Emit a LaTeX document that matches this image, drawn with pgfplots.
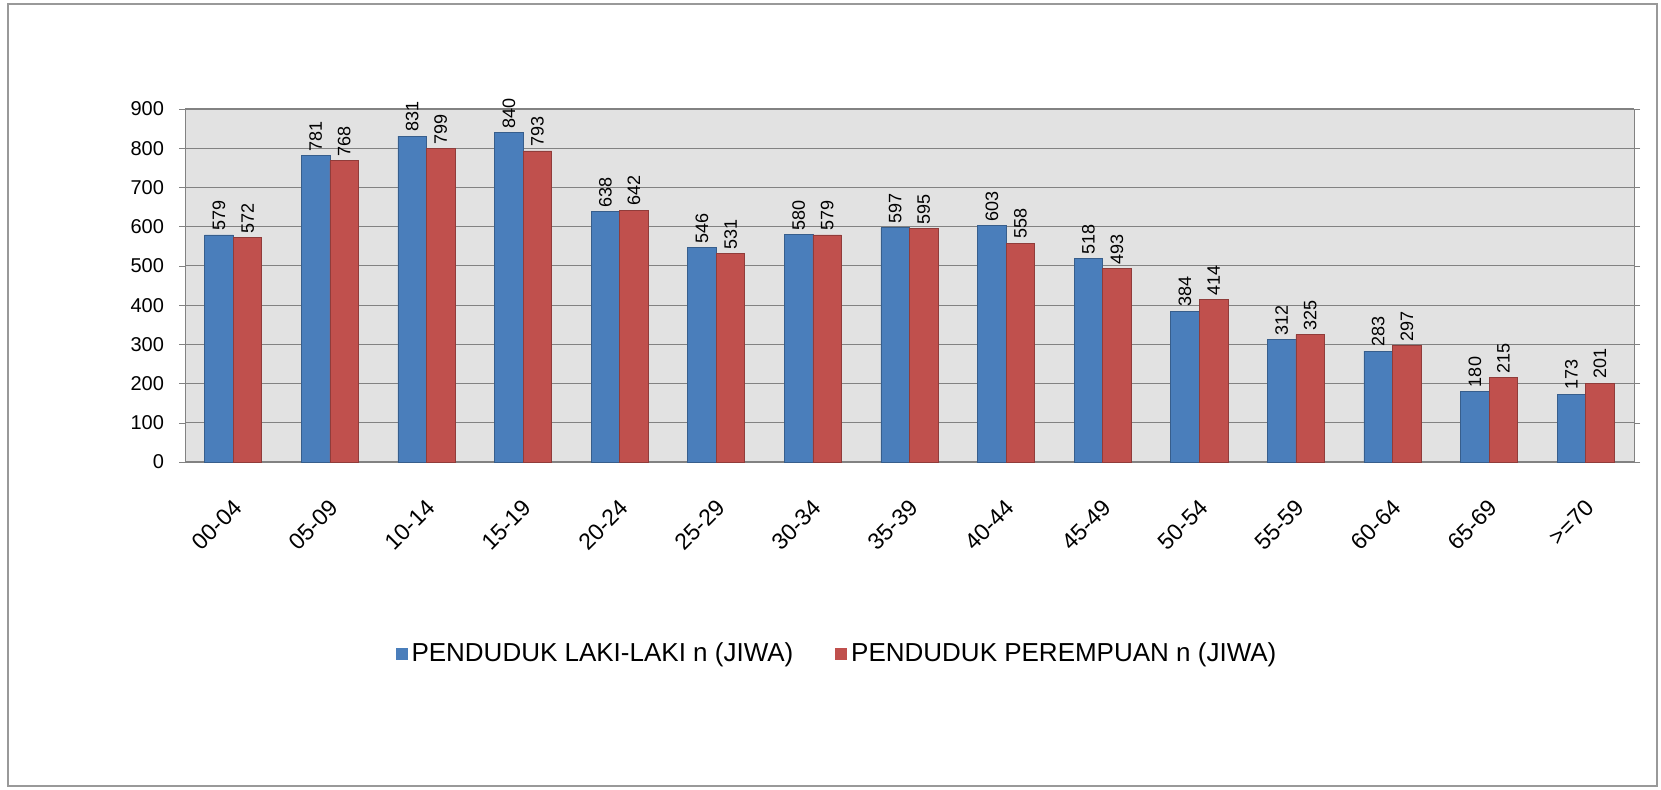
\documentclass[border=0pt]{standalone}
\usepackage{pgfplots}
\pgfplotsset{compat=1.18}
\usepackage{fontspec}
\setmainfont{Liberation Sans}
\definecolor{lakiblue}{RGB}{74,126,187}
\definecolor{perred}{RGB}{192,80,77}
\definecolor{plotbg}{RGB}{226,226,226}
\definecolor{gridc}{RGB}{130,130,130}
\begin{document}
\begin{tikzpicture}[x=1pt,y=1pt]
\path[use as bounding box] (0,0) rectangle (830.5,394.5);
\draw[gray!80, line width=0.8pt] (4,1.5) rectangle (828.5,392.5);
\begin{axis}[
    at={(92.5pt,163.5pt)}, anchor=south west,
    width=724.5pt, height=176.5pt, scale only axis,
    ybar=0pt, bar width=0.296,
    xmin=-0.5, xmax=14.5, ymin=0, ymax=900,
    xtick={0,...,14},
    xticklabels={00-04,05-09,10-14,15-19,20-24,25-29,30-34,35-39,40-44,45-49,50-54,55-59,60-64,65-69,>=70},
    ytick={0,100,...,900},
    x tick style={draw=none},
    y tick style={gridc},
    tick align=outside, major tick length=3pt,
    axis line style={gridc},
    axis background/.style={fill=plotbg},
    ymajorgrids, major grid style={gridc, line width=0.6pt},
    yticklabel style={xshift=-4pt, font=\fontsize{10}{12}\selectfont},
    xticklabel style={rotate=45, anchor=north east, inner sep=1pt, xshift=-10pt, yshift=-9pt,
        font=\fontsize{11.5}{13}\selectfont},
    /pgf/number format/.cd, assume math mode=true, 1000 sep={},
    /pgfplots/.cd,
    nodes near coords,
    every node near coord/.append style={rotate=90, anchor=west, font=\fontsize{9}{10}\selectfont, inner sep=2pt},
    legend style={at={(0.4507,-0.544)}, anchor=center, legend columns=2, draw=none, fill=none,
        font=\fontsize{13}{15}\selectfont,
        /tikz/every even column/.append style={column sep=19pt}},
  ]
    \addplot[fill=lakiblue, draw=lakiblue!75!black, line width=0.4pt,
        legend image code/.code={\fill[lakiblue] (0pt,-2.75pt) rectangle (5.5pt,2.75pt);}]
      coordinates {
        (0,579) (1,781) (2,831) (3,840) (4,638) (5,546) (6,580) (7,597)
        (8,603) (9,518) (10,384) (11,312) (12,283) (13,180) (14,173)
      };
    \addplot[fill=perred, draw=perred!75!black, line width=0.4pt,
        legend image code/.code={\fill[perred] (0pt,-2.75pt) rectangle (5.5pt,2.75pt);}]
      coordinates {
        (0,572) (1,768) (2,799) (3,793) (4,642) (5,531) (6,579) (7,595)
        (8,558) (9,493) (10,414) (11,325) (12,297) (13,215) (14,201)
      };
    \legend{PENDUDUK LAKI-LAKI n (JIWA), PENDUDUK PEREMPUAN n (JIWA)}
  \end{axis}
\end{tikzpicture}
\end{document}
